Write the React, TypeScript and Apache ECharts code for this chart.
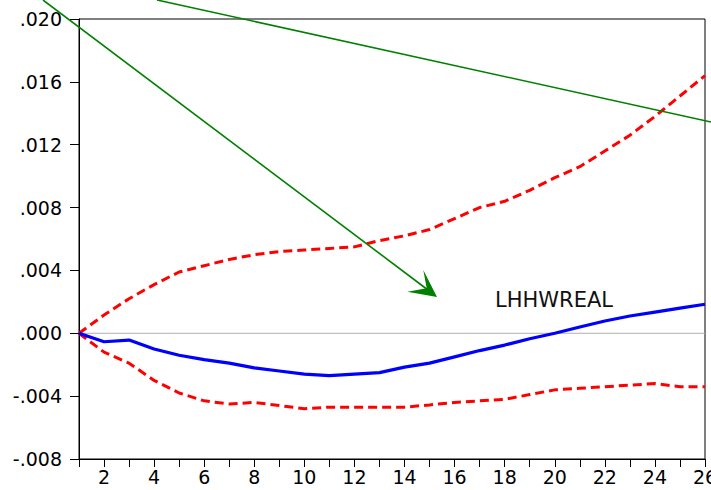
import React, { useEffect, useRef } from "react";
import * as echarts from "echarts";

const periods = [1, 2, 3, 4, 5, 6, 7, 8, 9, 10, 11, 12, 13, 14, 15, 16, 17, 18, 19, 20, 21, 22, 23, 24, 25, 26];
const response = [0, -0.00054, -0.00043, -0.001, -0.0014, -0.00168, -0.0019, -0.0022, -0.0024, -0.0026, -0.0027, -0.0026, -0.0025, -0.00215, -0.0019, -0.0015, -0.0011, -0.00075, -0.00035, 0, 0.0004, 0.00078, 0.0011, 0.00135, 0.0016, 0.00185];
const upperBand = [0, 0.00116, 0.0022, 0.0031, 0.0039, 0.0043, 0.0047, 0.005, 0.0052, 0.0053, 0.0054, 0.0055, 0.0059, 0.0062, 0.0066, 0.0073, 0.008, 0.0084, 0.0091, 0.0099, 0.0106, 0.0116, 0.0126, 0.0138, 0.0151, 0.0164];
const lowerBand = [0, -0.0012, -0.0019, -0.003, -0.0038, -0.0043, -0.0045, -0.0044, -0.0046, -0.0048, -0.0047, -0.0047, -0.0047, -0.0047, -0.00456, -0.0044, -0.0043, -0.0042, -0.0039, -0.0036, -0.0035, -0.0034, -0.0033, -0.0032, -0.0034, -0.0034];
const seriesLabel = "LHHWREAL";

const pair = (vals: number[]) => periods.map((p, i) => [p, vals[i]]);

const fmtY = (v: number) => {
  const r = Math.round(v * 1000) / 1000;
  const s = Math.abs(r).toFixed(3).replace(/^0/, "");
  return (r < 0 ? "-" : "") + s;
};

export default function App() {
  const ref = useRef<HTMLDivElement>(null);
  useEffect(() => {
    if (!ref.current) return;
    const chart = echarts.init(ref.current, undefined, { renderer: "svg" });
    const font = "'DejaVu Sans', 'Liberation Sans', Arial, sans-serif";
    chart.setOption({
      animation: false,
      backgroundColor: "#ffffff",
      grid: {
        left: 79, top: 19, right: 6, bottom: 31,
        show: true, borderColor: "#000", borderWidth: 1, backgroundColor: "transparent",
        containLabel: false, outerBoundsMode: "none",
      },
      xAxis: {
        type: "value",
        min: 1,
        max: 26,
        interval: 1,
        axisLine: { show: true, onZero: false, lineStyle: { color: "#000", width: 1 } },
        axisTick: { show: true, length: 8, lineStyle: { color: "#000" } },
        axisLabel: {
          margin: 8,
          color: "#000",
          fontSize: 19,
          fontFamily: font,
          formatter: (v: number) => (Math.round(v) % 2 === 0 ? String(Math.round(v)) : ""),
          showMinLabel: true,
          showMaxLabel: true,
          hideOverlap: false,
        },
        splitLine: { show: false },
      },
      yAxis: {
        type: "value",
        min: -0.008,
        max: 0.02,
        interval: 0.004,
        axisLine: { show: true, lineStyle: { color: "#000", width: 1 } },
        axisTick: { show: true, length: 9, lineStyle: { color: "#000" } },
        axisLabel: { margin: 17, color: "#000", fontSize: 19, fontFamily: font, formatter: fmtY },
        splitLine: { show: false },
      },
      series: [
        {
          type: "line",
          data: [[1, 0], [26, 0]],
          symbol: "none",
          silent: true,
          lineStyle: { color: "#b0b0b0", width: 1 },
          z: 1,
        },
        {
          type: "line",
          data: pair(upperBand),
          symbol: "none",
          lineStyle: { color: "#ff0000", width: 3, type: [9, 5] },
          z: 2,
        },
        {
          type: "line",
          data: pair(lowerBand),
          symbol: "none",
          lineStyle: { color: "#ff0000", width: 3, type: [9, 5] },
          z: 2,
        },
        {
          type: "line",
          data: pair(response),
          symbol: "none",
          lineStyle: { color: "#0000ff", width: 3.2 },
          z: 3,
        },
      ],
      graphic: [
        {
          type: "line",
          shape: { x1: 43, y1: 0, x2: 428, y2: 290 },
          style: { stroke: "#008000", lineWidth: 1.6 },
          z: 10,
        },
        {
          type: "polygon",
          shape: { points: [[423.3, 270], [426.7, 288.3], [407.3, 291.7], [437, 297]] },
          style: { fill: "#008000" },
          z: 10,
        },
        {
          type: "line",
          shape: { x1: 157, y1: 0, x2: 711, y2: 122 },
          style: { stroke: "#008000", lineWidth: 1.6 },
          z: 10,
        },
        {
          type: "text",
          x: 554,
          y: 300,
          style: {
            text: seriesLabel,
            fill: "#111",
            font: "21px " + font,
            textAlign: "center",
            textVerticalAlign: "middle",
          },
          z: 10,
        },
      ],
    });
    return () => chart.dispose();
  }, []);
  return <div ref={ref} style={{ width: 711, height: 490, position: "absolute", left: 0, top: 0 }} />;
}
